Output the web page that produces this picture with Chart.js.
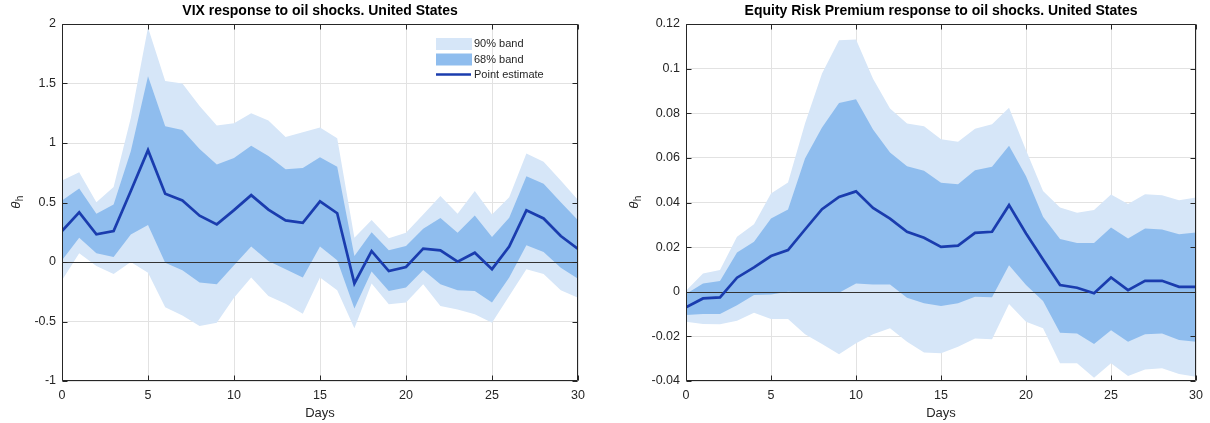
<!DOCTYPE html>
<html>
<head>
<meta charset="utf-8">
<script src="https://cdn.jsdelivr.net/npm/chart.js@4.4.1/dist/chart.umd.min.js"></script>
<style>
  html, body { margin: 0; padding: 0; background: #ffffff; }
  #wrap { position: relative; width: 1210px; height: 423px; }
  canvas { position: absolute; top: 0; }
  #vix { left: 0; }
  #erp { left: 605px; }
</style>
</head>
<body>
<div id="wrap">
  <canvas id="vix" width="605" height="423"></canvas>
  <canvas id="erp" width="605" height="423"></canvas>
</div>
<script>
// Horizon in days
const days = [0, 1, 2, 3, 4, 5, 6, 7, 8, 9, 10, 11, 12, 13, 14, 15, 16, 17, 18, 19, 20, 21, 22, 23, 24, 25, 26, 27, 28, 29, 30];
const dayTicks = [0, 5, 10, 15, 20, 25, 30];

// VIX impulse response
const vixEstimate = [0.26, 0.417, 0.232, 0.26, 0.596, 0.94, 0.573, 0.517, 0.389, 0.316, 0.436, 0.562, 0.44, 0.35, 0.33, 0.51,
                     0.41, -0.18, 0.092, -0.076, -0.042, 0.112, 0.098, 0.003, 0.078, -0.06, 0.129, 0.434, 0.366, 0.218, 0.109];
const vixUpper68 = [0.517, 0.618, 0.406, 0.484, 0.93, 1.56, 1.14, 1.11, 0.95, 0.82, 0.875, 0.976, 0.89, 0.78, 0.79, 0.88,
                    0.80, 0.05, 0.25, 0.098, 0.134, 0.28, 0.37, 0.246, 0.39, 0.21, 0.372, 0.72, 0.657, 0.503, 0.35];
const vixLower68 = [0.014, 0.204, 0.073, 0.042, 0.232, 0.31, -0.006, -0.07, -0.173, -0.187, -0.028, 0.13, 0.008, -0.06, -0.13, 0.13,
                    0.014, -0.39, -0.08, -0.243, -0.215, -0.067, -0.187, -0.238, -0.243, -0.34, -0.13, 0.14, 0.084, -0.048, -0.14];
const vixUpper90 = [0.685, 0.755, 0.503, 0.63, 1.21, 1.97, 1.52, 1.50, 1.31, 1.147, 1.166, 1.25, 1.19, 1.05, 1.09, 1.13,
                    1.04, 0.204, 0.352, 0.199, 0.246, 0.40, 0.554, 0.406, 0.596, 0.40, 0.545, 0.912, 0.842, 0.685, 0.52];
const vixLower90 = [-0.154, 0.073, -0.034, -0.10, 0.0, -0.09, -0.38, -0.45, -0.537, -0.51, -0.30, -0.13, -0.285, -0.35, -0.434, -0.13,
                    -0.238, -0.557, -0.18, -0.355, -0.34, -0.187, -0.37, -0.40, -0.44, -0.51, -0.285, -0.06, -0.10, -0.238, -0.30];
const vixTicks = [-1, -0.5, 0, 0.5, 1, 1.5, 2];

// Equity risk premium impulse response
const erpEstimate = [-0.007, -0.003, -0.0025, 0.0063, 0.0109, 0.016, 0.0187, 0.0279, 0.037, 0.0425, 0.045, 0.0376, 0.0328, 0.0269, 0.0242, 0.0201,
                     0.0207, 0.0264, 0.0269, 0.0388, 0.0261, 0.0145, 0.003, 0.0018, -0.0007, 0.0064, 0.0007, 0.0049, 0.0049, 0.0022, 0.0022];
const erpUpper68 = [-0.001, 0.0037, 0.0048, 0.0176, 0.0224, 0.0328, 0.0369, 0.0597, 0.0736, 0.0846, 0.0863, 0.0727, 0.0624, 0.0563, 0.0542, 0.0488,
                    0.0482, 0.0545, 0.056, 0.0654, 0.0518, 0.0336, 0.0236, 0.0219, 0.0219, 0.0288, 0.0239, 0.0284, 0.0279, 0.0258, 0.0266];
const erpLower68 = [-0.0104, -0.0100, -0.0100, -0.006, -0.0015, -0.0012, 0.0, -0.0004, -0.0001, -0.0004, 0.0037, 0.0033, 0.0033, -0.0027, -0.0052, -0.0064,
                    -0.0052, -0.0022, -0.0025, 0.0119, 0.003, -0.0042, -0.0184, -0.0187, -0.0234, -0.0172, -0.0224, -0.019, -0.0187, -0.0216, -0.0224];
const erpUpper90 = [0.0004, 0.0082, 0.0097, 0.0246, 0.0303, 0.044, 0.049, 0.0754, 0.0978, 0.1127, 0.1131, 0.0955, 0.0821, 0.0754, 0.0742, 0.0684,
                    0.0672, 0.0731, 0.0751, 0.0825, 0.0634, 0.0452, 0.0378, 0.0354, 0.0366, 0.0436, 0.0393, 0.0437, 0.0433, 0.041, 0.0422];
const erpLower90 = [-0.0134, -0.0145, -0.0146, -0.013, -0.0094, -0.0122, -0.0122, -0.019, -0.0234, -0.028, -0.0231, -0.0191, -0.0164, -0.0224, -0.0272, -0.0276,
                    -0.0246, -0.0209, -0.0213, -0.0055, -0.0134, -0.0164, -0.0321, -0.0321, -0.0385, -0.0321, -0.0378, -0.0348, -0.0343, -0.0369, -0.0381];
const erpTicks = [-0.04, -0.02, 0, 0.02, 0.04, 0.06, 0.08, 0.1, 0.12];

const COLORS = {
  band90: '#d6e6f8',
  band68: '#8fbdee',
  line: '#1a3cae',
  axis: '#262626',
  grid: '#e2e2e2'
};
const FONT = '"Liberation Sans", Arial, Helvetica, sans-serif';
Chart.defaults.font.family = FONT;
Chart.defaults.color = COLORS.axis;

const toPoints = values => days.map((d, i) => ({ x: d, y: values[i] }));

// Box around the plot with inward tick marks on all four sides, plus the zero reference line
const axesBox = {
  id: 'axesBox',
  beforeDatasetDraw(chart, args) {
    if (args.index !== 4) return;
    const { ctx, chartArea: a, scales: { y } } = chart;
    const yz = Math.round(y.getPixelForValue(0)) + 0.5;
    ctx.save();
    ctx.strokeStyle = '#333333';
    ctx.lineWidth = 1;
    ctx.beginPath();
    ctx.moveTo(a.left, yz);
    ctx.lineTo(a.right, yz);
    ctx.stroke();
    ctx.restore();
  },
  afterDatasetsDraw(chart) {
    const { ctx, chartArea: a, scales: { x, y } } = chart;
    const L = Math.round(a.left) + 0.5, R = Math.round(a.right) - 0.5;
    const T = Math.round(a.top) + 0.5, B = Math.round(a.bottom) - 0.5;
    const len = 5;
    ctx.save();
    ctx.strokeStyle = COLORS.axis;
    ctx.lineWidth = 1;
    ctx.beginPath();
    ctx.rect(L, T, R - L, B - T);
    x.ticks.forEach(t => {
      const px = Math.round(x.getPixelForValue(t.value)) + 0.5;
      ctx.moveTo(px, B); ctx.lineTo(px, B - len);
      ctx.moveTo(px, T); ctx.lineTo(px, T + len);
    });
    y.ticks.forEach(t => {
      const py = Math.round(y.getPixelForValue(t.value)) + 0.5;
      ctx.moveTo(L, py); ctx.lineTo(L + len, py);
      ctx.moveTo(R, py); ctx.lineTo(R - len, py);
    });
    ctx.stroke();
    ctx.restore();
  }
};

// Rotated y-axis label: theta with subscript h
const thetaLabel = {
  id: 'thetaLabel',
  afterDraw(chart, args, opts) {
    const { ctx, chartArea: a } = chart;
    const cy = (a.top + a.bottom) / 2;
    ctx.save();
    ctx.translate(opts.x, cy);
    ctx.rotate(-Math.PI / 2);
    ctx.fillStyle = COLORS.axis;
    ctx.textBaseline = 'middle';
    ctx.textAlign = 'left';
    ctx.font = 'italic 13px ' + FONT;
    const w1 = ctx.measureText('\u03B8').width;
    ctx.font = '10px ' + FONT;
    const w2 = ctx.measureText('h').width;
    const start = -(w1 + w2) / 2;
    ctx.font = 'italic 13px ' + FONT;
    ctx.fillText('\u03B8', start, 0);
    ctx.font = '10px ' + FONT;
    ctx.fillText('h', start + w1 + 0.5, 4);
    ctx.restore();
  }
};

// Legend placed inside the plot area, built from the labelled datasets
const insetLegend = {
  id: 'insetLegend',
  afterDraw(chart, args, opts) {
    if (!opts.show) return;
    const { ctx } = chart;
    const items = chart.data.datasets.filter(ds => ds.legendLabel);
    ctx.save();
    ctx.font = '11px ' + FONT;
    ctx.textBaseline = 'middle';
    ctx.fillStyle = COLORS.axis;
    items.forEach((ds, i) => {
      const cy = opts.y + i * 15.5;
      if (ds.legendKind === 'patch') {
        ctx.fillStyle = ds.backgroundColor;
        ctx.fillRect(opts.x, cy - 5.5, 36, 12);
      } else {
        ctx.strokeStyle = ds.borderColor;
        ctx.lineWidth = 2.5;
        ctx.beginPath();
        ctx.moveTo(opts.x, cy);
        ctx.lineTo(opts.x + 35, cy);
        ctx.stroke();
      }
      ctx.fillStyle = COLORS.axis;
      ctx.fillText(ds.legendLabel, opts.x + 38, cy + 0.5);
    });
    ctx.restore();
  }
};

function buildChart(id, spec) {
  const band = (values, color, fill, order, legendLabel) => ({
    data: toPoints(values),
    borderColor: 'rgba(0,0,0,0)',
    borderWidth: 0,
    backgroundColor: color,
    pointRadius: 0,
    tension: 0,
    fill: fill,
    order: order,
    legendLabel: legendLabel,
    legendKind: 'patch'
  });
  return new Chart(document.getElementById(id), {
    type: 'line',
    data: {
      datasets: [
        band(spec.up90, COLORS.band90, '+1', 10, '90% band'),
        band(spec.lo90, COLORS.band90, false, 10),
        band(spec.up68, COLORS.band68, '+1', 5, '68% band'),
        band(spec.lo68, COLORS.band68, false, 5),
        {
          data: toPoints(spec.est),
          borderColor: COLORS.line,
          backgroundColor: COLORS.line,
          borderWidth: 2.7,
          pointRadius: 0,
          tension: 0,
          fill: false,
          order: 0,
          borderJoinStyle: 'miter',
          legendLabel: 'Point estimate',
          legendKind: 'line'
        }
      ]
    },
    options: {
      responsive: false,
      animation: false,
      events: [],
      layout: { padding: { left: 0, right: spec.rightPad, top: 0, bottom: 0 } },
      plugins: {
        legend: { display: false },
        tooltip: { enabled: false },
        title: {
          display: true,
          text: spec.title,
          fullSize: false,
          color: '#000000',
          font: { size: 14, weight: 'bold', lineHeight: 1.2 },
          padding: { top: 3, bottom: 4.2 }
        },
        thetaLabel: { x: spec.labelX },
        insetLegend: { show: spec.legend, x: 436, y: 43.5 }
      },
      scales: {
        x: {
          type: 'linear',
          min: 0,
          max: 30,
          afterBuildTicks: s => { s.ticks = dayTicks.map(v => ({ value: v })); },
          afterFit: s => { s.height = 42; },
          ticks: { font: { size: 12.5 }, padding: 7, maxRotation: 0, autoSkip: false, color: COLORS.axis, callback: v => String(v) },
          grid: { color: COLORS.grid, drawTicks: false, lineWidth: 1 },
          border: { display: false },
          title: { display: true, text: 'Days', color: COLORS.axis, font: { size: 13 }, padding: { top: 0, bottom: 2 } }
        },
        y: {
          type: 'linear',
          min: spec.ticks[0],
          max: spec.ticks[spec.ticks.length - 1],
          afterBuildTicks: s => { s.ticks = spec.ticks.map(v => ({ value: v })); },
          afterFit: s => { s.width = spec.axisWidth; },
          ticks: { font: { size: 12.5 }, padding: 6, color: COLORS.axis, callback: v => String(v) },
          grid: { color: COLORS.grid, drawTicks: false, lineWidth: 1 },
          border: { display: false }
        }
      }
    },
    plugins: [axesBox, thetaLabel, insetLegend]
  });
}

buildChart('vix', {
  title: 'VIX response to oil shocks. United States',
  est: vixEstimate, up68: vixUpper68, lo68: vixLower68, up90: vixUpper90, lo90: vixLower90,
  ticks: vixTicks, axisWidth: 62, rightPad: 27, labelX: 16, legend: true
});

buildChart('erp', {
  title: 'Equity Risk Premium response to oil shocks. United States',
  est: erpEstimate, up68: erpUpper68, lo68: erpLower68, up90: erpUpper90, lo90: erpLower90,
  ticks: erpTicks, axisWidth: 81, rightPad: 10, labelX: 29, legend: false
});
</script>
</body>
</html>
